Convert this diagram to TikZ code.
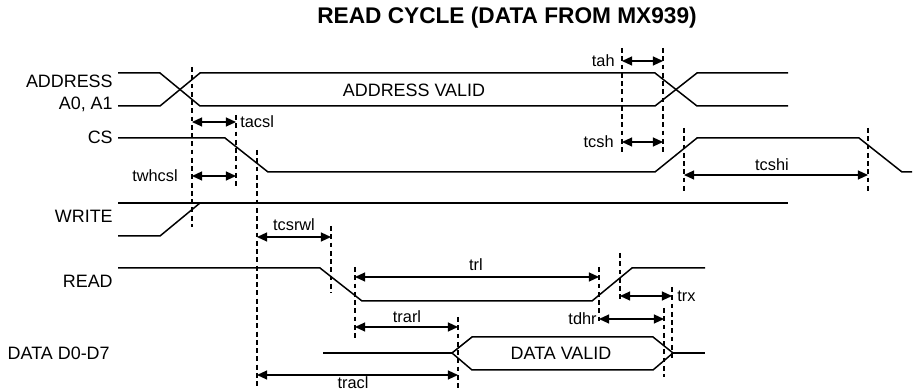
\documentclass[tikz,border=0pt]{standalone}
\usepackage{fontspec}
\setmainfont{Liberation Sans}
\usepackage{tikz}
\usetikzlibrary{arrows.meta}

\tikzset{
  sig/.style={line width=0.85pt},
  tline/.style={line width=0.6pt, dash pattern=on 2.8pt off 1.9pt},
  tarrow/.style={line width=0.7pt, >={Triangle[length=5.8pt,width=5.2pt]}, <->},
  siglabel/.style={anchor=base east, inner sep=0pt, font=\fontsize{10.2}{12}\selectfont},
  valid/.style={inner sep=0pt, font=\fontsize{10.2}{12}\selectfont},
  tlabel/.style={inner sep=0pt, font=\fontsize{9.3}{11}\selectfont},
}

\begin{document}
\begin{tikzpicture}[x=0.02cm,y=-0.02cm]

  \useasboundingbox (0,0) rectangle (914,391);

  % ----- title -----
  \node[font=\fontsize{12.9}{15}\selectfont\bfseries] (title) at (507,18)
    {READ CYCLE (DATA FROM MX939)};

  % ----- signal names -----
  \node[siglabel] (lbladdr) at (113,88)  {ADDRESS};
  \node[siglabel] (lbla01)  at (113,110) {A0, A1};
  \node[siglabel] (lblcs)   at (113,144) {CS};
  \node[siglabel] (lblwr)   at (113,223) {WRITE};
  \node[siglabel] (lblrd)   at (113,288) {READ};
  \node[siglabel] (lbldata) at (110,360) {DATA D0-D7};

  % ----- waveforms -----
  \draw[sig] (118,73) -- (160,73) -- (200,106) -- (655,106) -- (697,73) -- (788,73);
  \draw[sig] (118,106) -- (160,106) -- (200,73) -- (655,73) -- (697,106) -- (788,106);
  \node[valid] (addrvalid) at (414,90) {ADDRESS VALID};

  \draw[sig] (118,138) -- (225,138) -- (268,172) -- (655,172) -- (697,138)
             -- (859,138) -- (902,172) -- (912,172);

  \draw[sig] (118,203) -- (788,203);
  \draw[sig] (118,236) -- (160,236) -- (200,203);

  \draw[sig] (118,268) -- (320,268) -- (362,301) -- (592,301) -- (632,268) -- (705,268);

  \draw[sig] (323,353) -- (452,353);
  \draw[sig] (452,353) -- (472,337) -- (653,337) -- (673,353) -- (653,370) -- (472,370) -- cycle;
  \draw[sig] (673,353) -- (705,353);
  \node[valid] (datavalid) at (561,353) {DATA VALID};

  % ----- timing markers -----
  \foreach \x/\ya/\yb in {192/67/227, 236/115/188, 257/150/389, 331/226/293,
                          355/267/338, 458/317/389, 599/267/322, 620/253/302,
                          664/308/377, 672/287/360, 622/48/152, 663/48/155,
                          684/128/192, 868/128/192}
    \draw[tline] (\x,\ya) -- (\x,\yb);

  % ----- macro: \tspan{nome}{x1}{x2}{y}{lx}{ly}{anchor}{texto} -----
  \newcommand{\tspan}[8]{%
    \coordinate (#1-l) at (#2,#4);
    \coordinate (#1-r) at (#3,#4);
    \draw[tarrow] (#1-l) -- (#1-r);
    \node[tlabel, anchor=#7] (#1) at (#5,#6) {#8};
  }

  \tspan{tacsl}{192}{236}{122}{240}{122}{west}{tacsl}
  \tspan{twhcsl}{192}{236}{176}{178}{176}{east}{twhcsl}
  \tspan{tcsrwl}{257}{331}{237}{294}{225}{center}{tcsrwl}
  \tspan{tah}{622}{663}{61}{615}{61}{east}{tah}
  \tspan{tcsh}{622}{663}{142}{614}{142}{east}{tcsh}
  \tspan{tcshi}{684}{868}{175}{772}{165}{center}{tcshi}
  \tspan{trl}{355}{599}{277}{476}{265}{center}{trl}
  \tspan{trarl}{355}{458}{327}{407}{317}{center}{trarl}
  \tspan{tracl}{257}{458}{375}{353}{383}{center}{tracl}
  \tspan{tdhr}{599}{664}{319}{597}{319}{east}{tdhr}
  \tspan{trx}{620}{672}{296}{677}{296}{west}{trx}

\end{tikzpicture}
\end{document}
